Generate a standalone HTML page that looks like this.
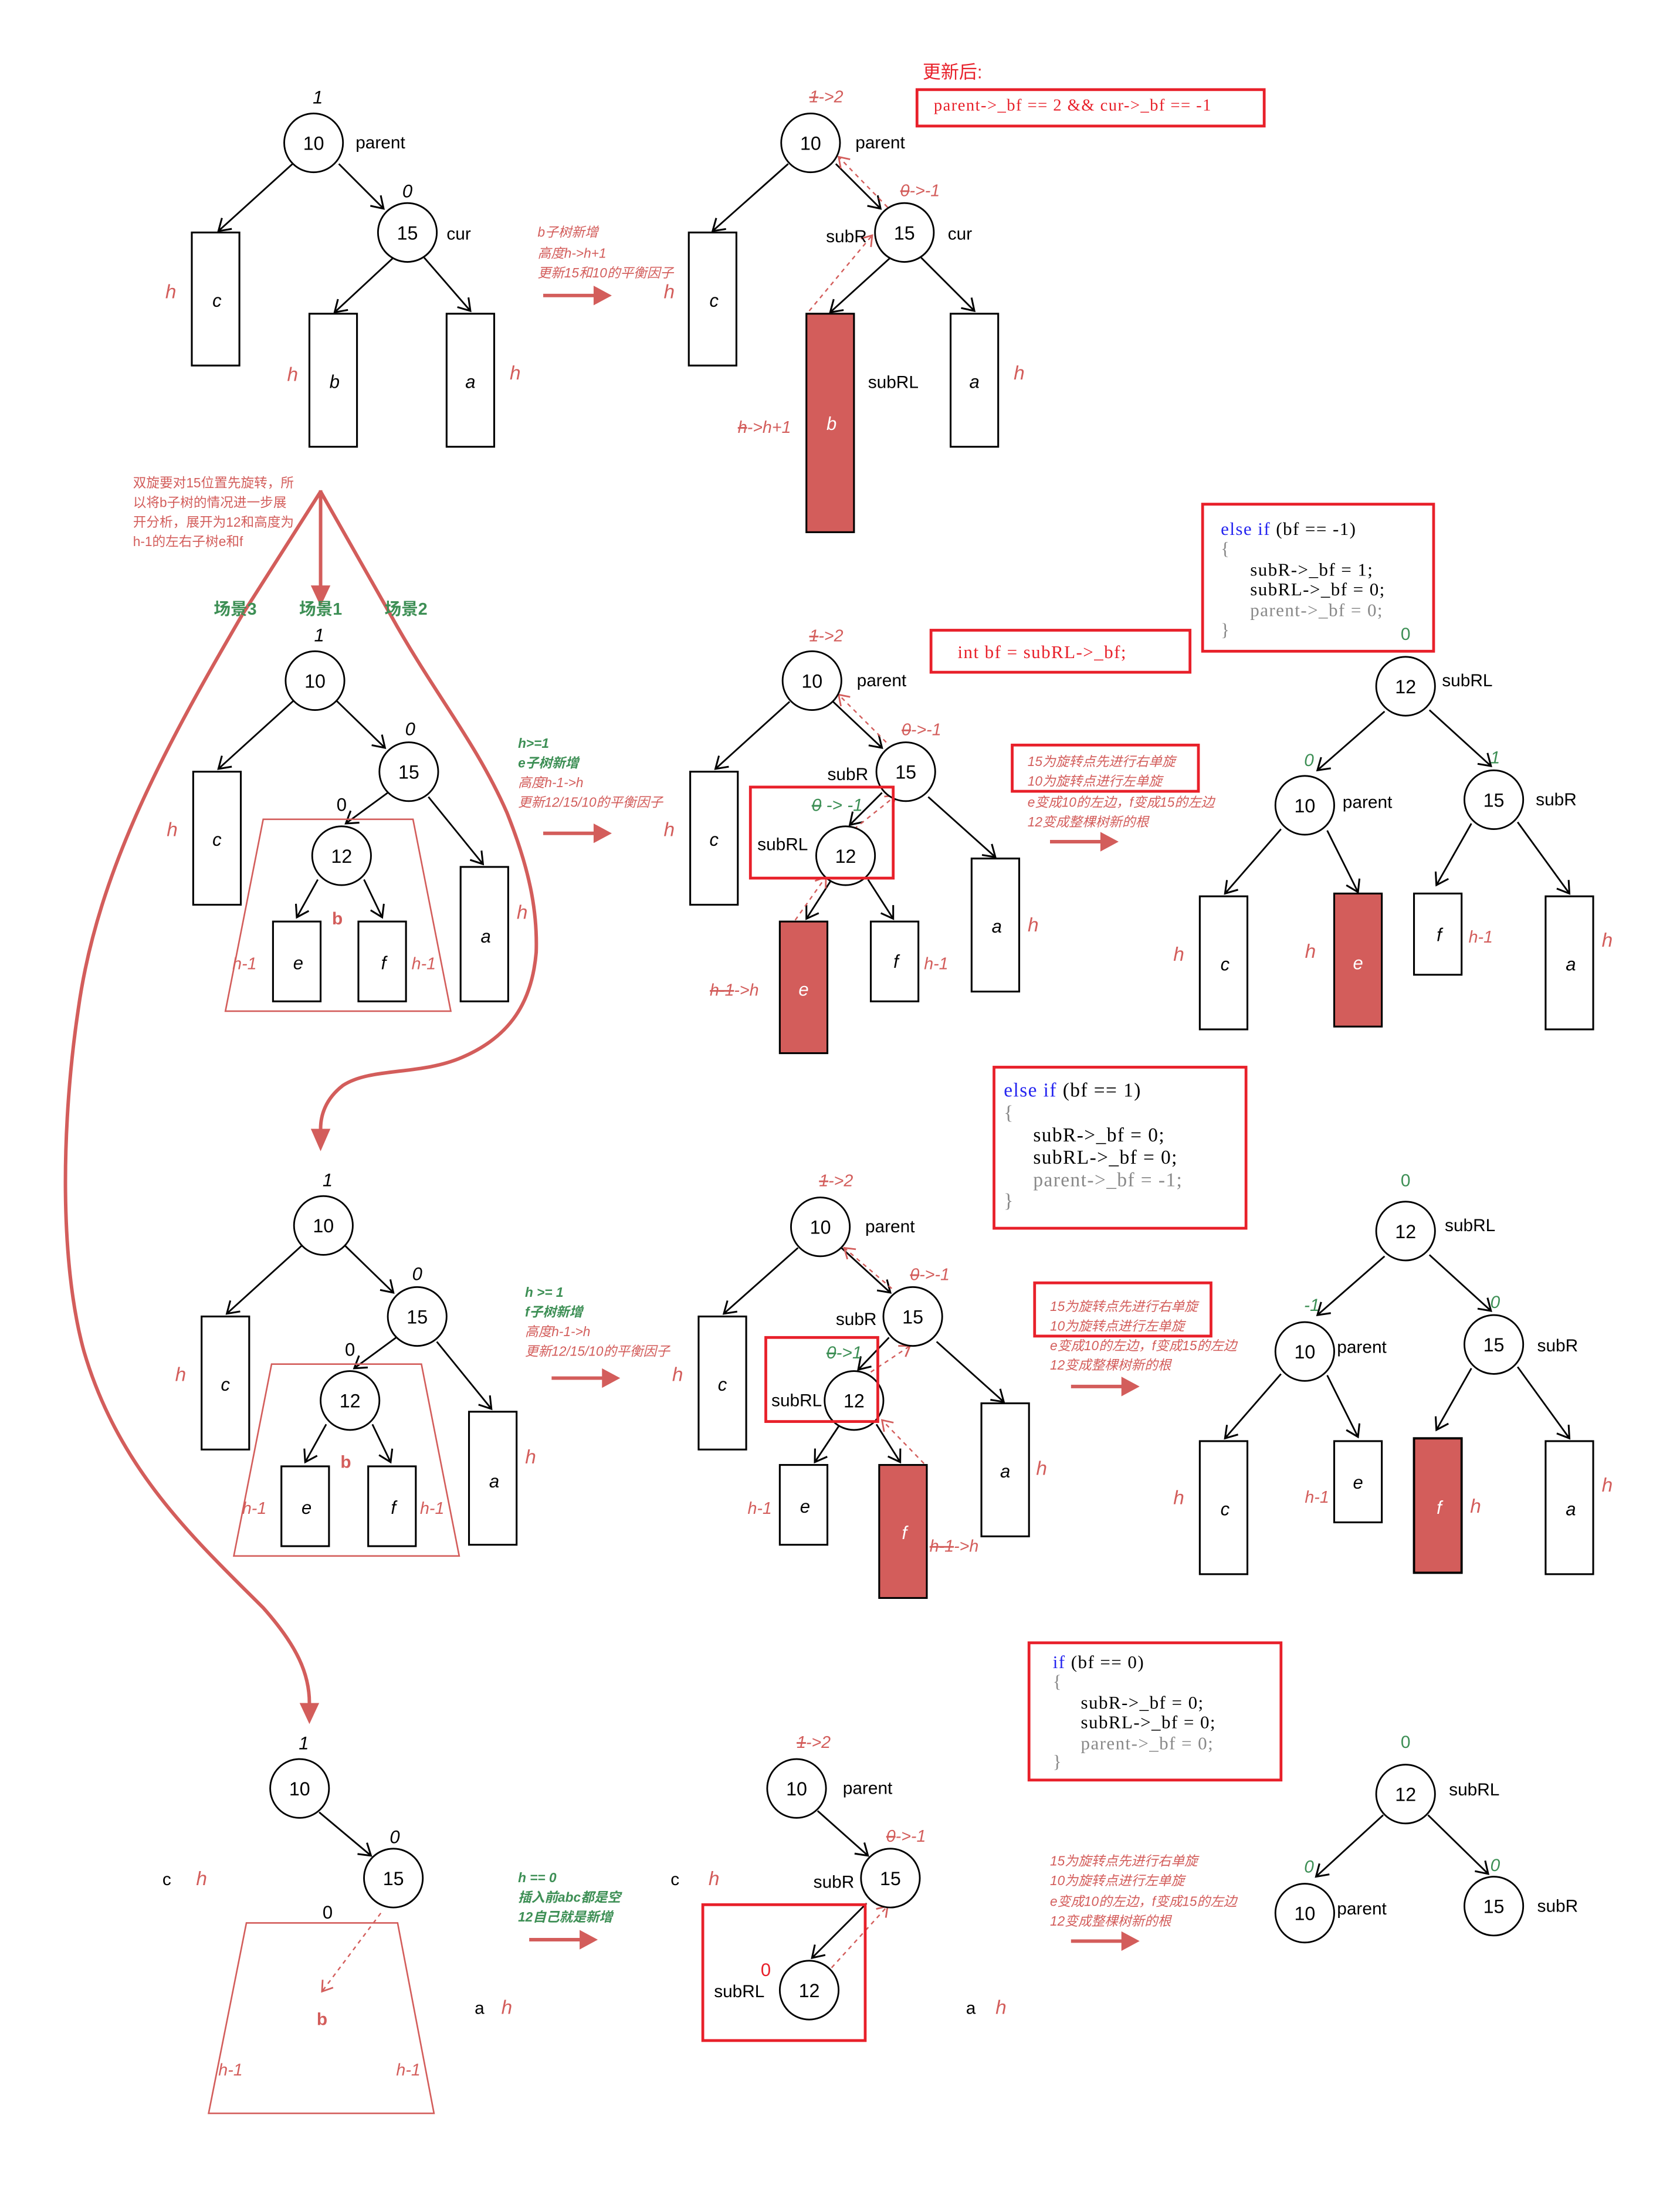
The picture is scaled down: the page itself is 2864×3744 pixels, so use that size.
<!DOCTYPE html>
<html><head><meta charset="utf-8"><style>
html,body{margin:0;padding:0;background:#fff}
svg{display:block}
text{font-family:"Liberation Sans","Noto Sans CJK SC",sans-serif}
.n{font-size:13.5px;text-anchor:middle}
.l{font-size:12.5px}
.i{font-style:italic;font-size:13px;text-anchor:middle}
.rh{font-style:italic;font-size:14px;fill:#d35d5b;text-anchor:middle}
.rs{font-style:italic;font-size:12px;fill:#d35d5b}
.t{font-style:italic;font-size:9.5px;fill:#d35d5b}
.tg{font-style:italic;font-size:9.5px;fill:#3d8f55;font-weight:bold}
.g{fill:#3d8f55;font-style:italic;font-size:12.5px;text-anchor:middle}
.code text{font-family:"Liberation Serif","Noto Serif CJK SC",serif;font-size:13px;letter-spacing:0.6px}
.kw{fill:#2525f0}
.gr{fill:#888}
.st{text-decoration:line-through}
</style></head><body>
<svg xmlns="http://www.w3.org/2000/svg" width="2864" height="3744" viewBox="0 0 1200 1568" preserveAspectRatio="none">
<defs>
<marker id="a" markerUnits="userSpaceOnUse" markerWidth="14" markerHeight="14" refX="0" refY="0" viewBox="-8 -6 10 12" orient="auto"><path d="M-7,-4.5 L0,0 L-7,4.5" fill="none" stroke="#000" stroke-width="1.1"/></marker>
<marker id="r" markerUnits="userSpaceOnUse" markerWidth="14" markerHeight="14" refX="0" refY="0" viewBox="-8 -6 10 12" orient="auto"><path d="M-6,-4 L0,0 L-6,4" fill="none" stroke="#d35d5b" stroke-width="1"/></marker>
</defs>
<rect width="1200" height="1568" fill="#fff"/>

<g stroke="#000" stroke-width="1.2" fill="none" marker-end="url(#a)">
<line x1="209" y1="117" x2="156" y2="165"/><line x1="242" y1="117" x2="274" y2="149"/>
<line x1="281" y1="184" x2="239" y2="223"/><line x1="303" y1="184" x2="336" y2="222"/>
<line x1="563" y1="117" x2="509" y2="165"/><line x1="597" y1="117" x2="629" y2="149"/>
<line x1="636" y1="184" x2="593" y2="223"/><line x1="658" y1="184" x2="696" y2="222"/>
<line x1="210" y1="500" x2="156" y2="549"/><line x1="240" y1="500" x2="275" y2="534"/>
<line x1="277" y1="566" x2="247" y2="588"/><line x1="306" y1="569" x2="345" y2="617"/>
<line x1="227" y1="628" x2="212" y2="655"/><line x1="260" y1="628" x2="273" y2="655"/>
<line x1="564" y1="501" x2="511" y2="549"/><line x1="595" y1="501" x2="630" y2="534"/>
<line x1="630" y1="566" x2="607" y2="589"/><line x1="663" y1="569" x2="711" y2="612"/>
<line x1="594" y1="628" x2="576" y2="656"/><line x1="620" y1="628" x2="638" y2="656"/>
<line x1="989" y1="508" x2="941" y2="550"/><line x1="1021" y1="507" x2="1065" y2="547"/>
<line x1="915" y1="592" x2="875" y2="638"/><line x1="948" y1="593" x2="970" y2="637"/>
<line x1="1051" y1="588" x2="1026" y2="632"/><line x1="1084" y1="587" x2="1121" y2="638"/>
<line x1="216" y1="889" x2="162" y2="938"/><line x1="246" y1="889" x2="281" y2="923"/>
<line x1="283" y1="955" x2="253" y2="977"/><line x1="312" y1="958" x2="351" y2="1006"/>
<line x1="233" y1="1017" x2="218" y2="1044"/><line x1="266" y1="1017" x2="279" y2="1044"/>
<line x1="570" y1="891" x2="517" y2="938"/><line x1="601" y1="891" x2="636" y2="923"/>
<line x1="635" y1="955" x2="613" y2="978"/><line x1="669" y1="958" x2="717" y2="1001"/>
<line x1="600" y1="1017" x2="582" y2="1044"/><line x1="626" y1="1017" x2="643" y2="1044"/>
<line x1="989" y1="897" x2="941" y2="939"/><line x1="1021" y1="896" x2="1065" y2="936"/>
<line x1="915" y1="981" x2="875" y2="1027"/><line x1="948" y1="982" x2="970" y2="1026"/>
<line x1="1051" y1="977" x2="1026" y2="1021"/><line x1="1084" y1="976" x2="1121" y2="1027"/>
<line x1="228" y1="1294" x2="265" y2="1325"/>
<line x1="584" y1="1293" x2="620" y2="1325"/>
<line x1="619" y1="1359" x2="580" y2="1398"/>
<line x1="988" y1="1296" x2="940" y2="1340"/><line x1="1020" y1="1296" x2="1063" y2="1338"/>
</g>

<g stroke="#d35d5b" stroke-width="1" stroke-dasharray="3,3" fill="none" marker-end="url(#r)">
<line x1="634" y1="148" x2="599" y2="112"/><line x1="578" y1="222" x2="623" y2="168"/>
<line x1="633" y1="530" x2="599" y2="496"/><line x1="610" y1="592" x2="640" y2="568"/><line x1="568" y1="657" x2="590" y2="626"/>
<line x1="637" y1="920" x2="603" y2="891"/><line x1="617" y1="983" x2="650" y2="961"/><line x1="660" y1="1045" x2="630" y2="1014"/>
<line x1="272" y1="1366" x2="230" y2="1422"/>
<line x1="594" y1="1405" x2="634" y2="1361"/>
</g>

<g stroke="#000" stroke-width="1.3" fill="#fff">
<rect x="137" y="166" width="34" height="95"/><rect x="221" y="224" width="34" height="95"/><rect x="319" y="224" width="34" height="95"/>
<rect x="492" y="166" width="34" height="95"/><rect x="576" y="224" width="34" height="156" fill="#d35d5b"/><rect x="679" y="224" width="34" height="95"/>
<rect x="138" y="551" width="34" height="95"/><rect x="195" y="658" width="34" height="57"/><rect x="256" y="658" width="34" height="57"/><rect x="329" y="619" width="34" height="96"/>
<rect x="493" y="551" width="34" height="95"/><rect x="557" y="658" width="34" height="94" fill="#d35d5b"/><rect x="622" y="658" width="34" height="57"/><rect x="694" y="613" width="34" height="95"/>
<rect x="857" y="640" width="34" height="95"/><rect x="953" y="638" width="34" height="95" fill="#d35d5b"/><rect x="1010" y="638" width="34" height="58"/><rect x="1104" y="640" width="34" height="95"/>
<rect x="144" y="940" width="34" height="95"/><rect x="201" y="1047" width="34" height="57"/><rect x="263" y="1047" width="34" height="57"/><rect x="335" y="1008" width="34" height="95"/>
<rect x="499" y="940" width="34" height="95"/><rect x="557" y="1046" width="34" height="57"/><rect x="628" y="1046" width="34" height="95" fill="#d35d5b"/><rect x="701" y="1002" width="34" height="95"/>
<rect x="857" y="1029" width="34" height="95"/><rect x="953" y="1029" width="34" height="58"/><rect x="1010" y="1027" width="34" height="96" fill="#d35d5b" stroke-width="1.6"/><rect x="1104" y="1029" width="34" height="95"/>
</g>

<g stroke="#d35d5b" stroke-width="1.1" fill="none">
<polygon points="188,585 295,585 322,722 161,722"/>
<polygon points="194,974 301,974 328,1111 167,1111"/>
<polygon points="176,1373 284,1373 310,1509 149,1509"/>
</g>

<g stroke="#000" stroke-width="1.2" fill="#fff">
<circle cx="224" cy="102" r="21"/><circle cx="291" cy="166" r="21"/>
<circle cx="579" cy="102" r="21"/><circle cx="646" cy="166" r="21"/>
<circle cx="225" cy="486" r="21"/><circle cx="292" cy="551" r="21"/><circle cx="244" cy="611" r="21"/>
<circle cx="580" cy="486" r="21"/><circle cx="647" cy="551" r="21"/><circle cx="604" cy="611" r="21"/>
<circle cx="1004" cy="490" r="21"/><circle cx="932" cy="575" r="21"/><circle cx="1067" cy="571" r="21"/>
<circle cx="231" cy="875" r="21"/><circle cx="298" cy="940" r="21"/><circle cx="250" cy="1000" r="21"/>
<circle cx="586" cy="876" r="21"/><circle cx="652" cy="940" r="21"/><circle cx="610" cy="1000" r="21"/>
<circle cx="1004" cy="879" r="21"/><circle cx="932" cy="965" r="21"/><circle cx="1067" cy="960" r="21"/>
<circle cx="214" cy="1277" r="21"/><circle cx="281" cy="1341" r="21"/>
<circle cx="569" cy="1277" r="21"/><circle cx="636" cy="1341" r="21"/><circle cx="578" cy="1421" r="21"/>
<circle cx="1004" cy="1281" r="21"/><circle cx="932" cy="1366" r="21"/><circle cx="1067" cy="1361" r="21"/>
</g>

<g stroke="#e8202a" stroke-width="2" fill="none">
<rect x="655" y="64" width="248" height="26"/>
<rect x="665" y="450" width="185" height="30"/>
<rect x="859" y="360" width="165" height="105"/>
<rect x="536" y="562" width="102" height="65"/>
<rect x="723" y="532" width="133" height="33"/>
<rect x="710" y="762" width="180" height="115"/>
<rect x="547" y="955" width="80" height="60"/>
<rect x="739" y="916" width="126" height="38"/>
<rect x="735" y="1173" width="180" height="98"/>
<rect x="502" y="1360" width="116" height="97"/>
</g>

<g stroke="#d35d5b" stroke-width="2.5" fill="none">
<line x1="229" y1="350" x2="229" y2="420"/>
<path d="M229,351 L173,439 C120,530 70,620 56,720 C44,800 42,900 60,965 C85,1050 140,1100 188,1148 C212,1175 221,1195 221,1216"/>
<path d="M229,351 L279,439 C310,495 340,530 362,580 C378,620 384,650 383,680 C380,715 365,740 330,755 C300,768 265,762 245,775 C232,785 229,797 229,806"/>
</g>
<g fill="#d35d5b">
<polygon points="222,418 236,418 229,433"/>
<polygon points="222,806 236,806 229,822"/>
<polygon points="214,1216 228,1216 221,1231"/>
</g>

<g stroke="#d35d5b" stroke-width="2.5"><line x1="388" y1="211" x2="425" y2="211"/><line x1="388" y1="595" x2="425" y2="595"/><line x1="750" y1="601" x2="787" y2="601"/><line x1="394" y1="984" x2="431" y2="984"/><line x1="765" y1="990" x2="802" y2="990"/><line x1="378" y1="1385" x2="415" y2="1385"/><line x1="765" y1="1386" x2="802" y2="1386"/></g>
<g fill="#d35d5b">
<polygon points="424,204 437,211 424,218"/><polygon points="424,588 437,595 424,602"/><polygon points="786,594 799,601 786,608"/>
<polygon points="430,977 443,984 430,991"/><polygon points="801,983 814,990 801,997"/><polygon points="414,1378 427,1385 414,1392"/><polygon points="801,1379 814,1386 801,1393"/>
</g>

<g class="n">
<text x="224" y="107" class="n">10</text><text x="291" y="171" class="n">15</text>
<text x="579" y="107" class="n">10</text><text x="646" y="171" class="n">15</text>
<text x="225" y="491" class="n">10</text><text x="292" y="556" class="n">15</text><text x="244" y="616" class="n">12</text>
<text x="580" y="491" class="n">10</text><text x="647" y="556" class="n">15</text><text x="604" y="616" class="n">12</text>
<text x="1004" y="495" class="n">12</text><text x="932" y="580" class="n">10</text><text x="1067" y="576" class="n">15</text>
<text x="231" y="880" class="n">10</text><text x="298" y="945" class="n">15</text><text x="250" y="1005" class="n">12</text>
<text x="586" y="881" class="n">10</text><text x="652" y="945" class="n">15</text><text x="610" y="1005" class="n">12</text>
<text x="1004" y="884" class="n">12</text><text x="932" y="970" class="n">10</text><text x="1067" y="965" class="n">15</text>
<text x="214" y="1282" class="n">10</text><text x="281" y="1346" class="n">15</text>
<text x="569" y="1282" class="n">10</text><text x="636" y="1346" class="n">15</text><text x="578" y="1426" class="n">12</text>
<text x="1004" y="1286" class="n">12</text><text x="932" y="1371" class="n">10</text><text x="1067" y="1366" class="n">15</text>
</g>

<g class="l">
<text x="254" y="106">parent</text><text x="319" y="171">cur</text>
<text x="611" y="106">parent</text><text x="677" y="171">cur</text><text x="590" y="173">subR</text><text x="620" y="277">subRL</text>
<text x="612" y="490">parent</text><text x="591" y="557">subR</text><text x="541" y="607">subRL</text>
<text x="1030" y="490">subRL</text><text x="959" y="577">parent</text><text x="1097" y="575">subR</text>
<text x="618" y="880">parent</text><text x="597" y="946">subR</text><text x="551" y="1004">subRL</text>
<text x="1032" y="879">subRL</text><text x="955" y="966">parent</text><text x="1098" y="965">subR</text>
<text x="602" y="1281">parent</text><text x="581" y="1348">subR</text><text x="510" y="1426">subRL</text>
<text x="1035" y="1282">subRL</text><text x="955" y="1367">parent</text><text x="1098" y="1365">subR</text>
<text x="116" y="1346">c</text><text x="339" y="1438">a</text><text x="479" y="1346">c</text><text x="690" y="1438">a</text>
</g>

<g class="i">
<text x="227" y="74">1</text><text x="291" y="141">0</text>
<text x="155" y="219">c</text><text x="239" y="277">b</text><text x="336" y="277">a</text>
<text x="510" y="219">c</text><text x="696" y="277">a</text>
<text x="228" y="458">1</text><text x="293" y="525">0</text>
<text x="155" y="604">c</text><text x="213" y="692">e</text><text x="274" y="692">f</text><text x="347" y="673">a</text>
<text x="510" y="604">c</text><text x="640" y="691">f</text><text x="712" y="666">a</text>
<text x="875" y="693">c</text><text x="1028" y="672">f</text><text x="1122" y="693">a</text>
<text x="234" y="847">1</text><text x="298" y="914">0</text>
<text x="161" y="993">c</text><text x="219" y="1081">e</text><text x="281" y="1081">f</text><text x="353" y="1062">a</text>
<text x="516" y="993">c</text><text x="575" y="1080">e</text><text x="718" y="1055">a</text>
<text x="875" y="1082">c</text><text x="970" y="1063">e</text><text x="1122" y="1082">a</text>
<text x="217" y="1249">1</text><text x="282" y="1316">0</text>
</g>
<g fill="#fff" style="font-style:italic;font-size:13px;text-anchor:middle">
<text x="594" y="307">b</text><text x="574" y="711">e</text><text x="970" y="692">e</text><text x="646" y="1099">f</text><text x="1028" y="1081">f</text>
</g>
<g style="font-size:13px;text-anchor:middle">
<text x="244" y="579">0</text><text x="250" y="968">0</text><text x="234" y="1370">0</text>
</g>

<g class="rh">
<text x="122" y="213">h</text><text x="209" y="272">h</text><text x="368" y="271">h</text>
<text x="478" y="213">h</text><text x="728" y="271">h</text>
<text x="123" y="597">h</text><text x="373" y="656">h</text><text x="478" y="597">h</text><text x="738" y="665">h</text>
<text x="842" y="686">h</text><text x="936" y="684">h</text><text x="1148" y="676">h</text>
<text x="129" y="986">h</text><text x="379" y="1045">h</text><text x="484" y="986">h</text><text x="744" y="1053">h</text>
<text x="842" y="1074">h</text><text x="1054" y="1080">h</text><text x="1148" y="1065">h</text>
<text x="144" y="1346">h</text><text x="362" y="1438">h</text><text x="510" y="1346">h</text><text x="715" y="1438">h</text>
</g>
<g class="rs">
<text x="166" y="692">h-1</text><text x="294" y="692">h-1</text>
<text x="660" y="692">h-1</text><text x="1049" y="673">h-1</text>
<text x="173" y="1081">h-1</text><text x="300" y="1081">h-1</text><text x="534" y="1081">h-1</text>
<text x="932" y="1073">h-1</text>
<text x="156" y="1482">h-1</text><text x="283" y="1482">h-1</text>
<text x="527" y="309"><tspan class="st">h</tspan>-&gt;h+1</text>
<text x="507" y="711"><tspan class="st">h-1</tspan>-&gt;h</text>
<text x="664" y="1108"><tspan class="st">h-1</tspan>-&gt;h</text>
<text x="578" y="73"><tspan class="st">1</tspan>-&gt;2</text>
<text x="643" y="140"><tspan class="st">0</tspan>-&gt;-1</text>
<text x="578" y="458"><tspan class="st">1</tspan>-&gt;2</text>
<text x="644" y="525"><tspan class="st">0</tspan>-&gt;-1</text>
<text x="585" y="847"><tspan class="st">1</tspan>-&gt;2</text>
<text x="650" y="914"><tspan class="st">0</tspan>-&gt;-1</text>
<text x="569" y="1248"><tspan class="st">1</tspan>-&gt;2</text>
<text x="633" y="1315"><tspan class="st">0</tspan>-&gt;-1</text>
</g>
<text x="547" y="1411" style="font-size:13px;fill:#e8202a;text-anchor:middle">0</text>

<g style="font-weight:bold;font-size:12.5px;fill:#d35d5b;text-anchor:middle">
<text x="241" y="660">b</text><text x="247" y="1048">b</text><text x="230" y="1446">b</text>
</g>

<g class="g">
<text x="598" y="579"><tspan class="st">0</tspan> -&gt; -1</text>
<text x="603" y="970"><tspan class="st">0</tspan>-&gt;1</text>
<text x="935" y="547">0</text><text x="1068" y="545">1</text>
<text x="937" y="936">-1</text><text x="1068" y="934">0</text>
<text x="935" y="1337">0</text><text x="1068" y="1336">0</text>
</g>
<g style="fill:#3d8f55;font-size:12.5px;text-anchor:middle">
<text x="1004" y="457">0</text><text x="1004" y="847">0</text><text x="1004" y="1248">0</text>
</g>
<g style="fill:#3d8f55;font-size:12px;font-weight:bold;text-anchor:middle">
<text x="168" y="439">场景3</text><text x="229" y="439">场景1</text><text x="290" y="439">场景2</text>
</g>

<g class="t">
<text x="384" y="169">b子树新增</text><text x="384" y="184">高度h-&gt;h+1</text><text x="384" y="198">更新15和10的平衡因子</text>
<text x="370" y="562">高度h-1-&gt;h</text><text x="370" y="576">更新12/15/10的平衡因子</text>
<text x="375" y="954">高度h-1-&gt;h</text><text x="375" y="968">更新12/15/10的平衡因子</text>
<text x="734" y="547">15为旋转点先进行右单旋</text><text x="734" y="561">10为旋转点进行左单旋</text><text x="734" y="576">e变成10的左边，f变成15的左边</text><text x="734" y="590">12变成整棵树新的根</text>
<text x="750" y="936">15为旋转点先进行右单旋</text><text x="750" y="950">10为旋转点进行左单旋</text><text x="750" y="964">e变成10的左边，f变成15的左边</text><text x="750" y="978">12变成整棵树新的根</text>
<text x="750" y="1332">15为旋转点先进行右单旋</text><text x="750" y="1346">10为旋转点进行左单旋</text><text x="750" y="1361">e变成10的左边，f变成15的左边</text><text x="750" y="1375">12变成整棵树新的根</text>
</g>
<g class="tg">
<text x="370" y="534">h&gt;=1</text><text x="370" y="548">e子树新增</text>
<text x="375" y="926">h &gt;= 1</text><text x="375" y="940">f子树新增</text>
<text x="370" y="1344">h == 0</text><text x="370" y="1358">插入前abc都是空</text><text x="370" y="1372">12自己就是新增</text>
</g>
<g style="font-size:9.5px;fill:#d35d5b">
<text x="95" y="348">双旋要对15位置先旋转，所</text><text x="95" y="362">以将b子树的情况进一步展</text><text x="95" y="376">开分析，展开为12和高度为</text><text x="95" y="390">h-1的左右子树e和f</text>
</g>
<text x="659" y="56" style="font-size:13px;fill:#e8202a">更新后:</text>

<g class="code">
<text x="667" y="79" fill="#e8202a" style="font-size:12px">parent-&gt;_bf == 2 &amp;&amp; cur-&gt;_bf == -1</text>
<text x="684" y="470" fill="#e8202a">int bf = subRL-&gt;_bf;</text>
<text x="872" y="382"><tspan class="kw">else if</tspan> (bf == -1)</text>
<text x="872" y="396" class="gr">{</text>
<text x="893" y="411">subR-&gt;_bf = 1;</text>
<text x="893" y="425">subRL-&gt;_bf = 0;</text>
<text x="893" y="440" class="gr">parent-&gt;_bf = 0;</text>
<text x="872" y="454" class="gr">}</text>
<text x="717" y="783" style="font-size:14px"><tspan class="kw">else if</tspan> (bf == 1)</text>
<text x="717" y="799" class="gr" style="font-size:14px">{</text>
<text x="738" y="815" style="font-size:14px">subR-&gt;_bf = 0;</text>
<text x="738" y="831" style="font-size:14px">subRL-&gt;_bf = 0;</text>
<text x="738" y="847" class="gr" style="font-size:14px">parent-&gt;_bf = -1;</text>
<text x="717" y="862" class="gr" style="font-size:14px">}</text>
<text x="752" y="1191"><tspan class="kw">if</tspan> (bf == 0)</text>
<text x="752" y="1205" class="gr">{</text>
<text x="772" y="1220">subR-&gt;_bf = 0;</text>
<text x="772" y="1234">subRL-&gt;_bf = 0;</text>
<text x="772" y="1249" class="gr">parent-&gt;_bf = 0;</text>
<text x="752" y="1262" class="gr">}</text>
</g>
</svg>
</body></html>
